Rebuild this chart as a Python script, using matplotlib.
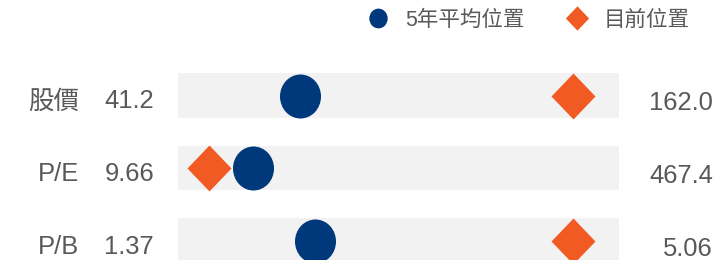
import matplotlib
matplotlib.use("Agg")
import matplotlib.pyplot as plt
import numpy as np
from matplotlib.path import Path
from matplotlib.lines import Line2D
from matplotlib.transforms import blended_transform_factory, offset_copy

# data
metrics = ["股價", "P/E", "P/B"]
range_min = [41.2, 9.66, 1.37]
range_max = [162.0, 467.4, 5.06]
avg_5y = [74.6, 87.5, 2.52]
current = [149.4, 41.8, 4.675]

legend_labels = ["5年平均位置", "目前位置"]

NAVY = "#00387C"
ORANGE = "#F15A22"
GRAY_BAR = "#F2F2F2"
TEXT = "#595959"
FONT = ["Liberation Sans", "Noto Sans CJK TC"]

plt.rcParams["font.family"] = FONT

# slightly tall ellipse and diamond markers
ellipse = Path.unit_circle().transformed(
    matplotlib.transforms.Affine2D().scale(41 / 44, 1.0))
diamond = Path([(0, 0.5), (0.478, 0), (0, -0.5), (-0.478, 0), (0, 0.5)],
               [Path.MOVETO, Path.LINETO, Path.LINETO, Path.LINETO, Path.CLOSEPOLY])


def main():
    W, H = 717, 260
    fig = plt.figure(figsize=(W / 100, H / 100), dpi=100)

    # axes covers the bar span; rows are 72.5 px apart
    top_px = 95.5 - 36.25
    ax = fig.add_axes([178 / W, 0, 441 / W, (H - top_px) / H])
    rows = np.arange(len(metrics))
    ax.set_xlim(0, 1)
    ax.set_ylim(2.5 - (276.75 - H) / 72.5, -0.5)
    ax.axis("off")

    mins = np.array(range_min)
    maxs = np.array(range_max)
    avg_pos = (np.array(avg_5y) - mins) / (maxs - mins)
    cur_pos = (np.array(current) - mins) / (maxs - mins)

    ax.barh(rows, 1, left=0, height=0.62, color=GRAY_BAR, zorder=1)
    ax.plot(avg_pos, rows, ls="none", marker=ellipse, ms=31.7, mew=0,
            color=NAVY, zorder=3, clip_on=False)
    ax.plot(cur_pos, rows, ls="none", marker=diamond, ms=33.1, mew=0,
            color=ORANGE, zorder=3, clip_on=False)

    # labels left and right of the bars
    trans = blended_transform_factory(fig.transFigure, ax.transData)
    left_tr = offset_copy(trans, fig=fig, y=-13, units="dots")
    right_tr = offset_copy(trans, fig=fig, y=-15, units="dots")
    for i, name in enumerate(metrics):
        ax.text(79 / W, i, name, transform=left_tr, ha="right", va="baseline",
                fontsize=18.4, color=TEXT)
        ax.text(154 / W, i, f"{range_min[i]:g}", transform=left_tr, ha="right",
                va="baseline", fontsize=18.4, color=TEXT)
        ax.text(713 / W, i, f"{range_max[i]:.3g}" if range_max[i] < 10 else f"{range_max[i]:.1f}",
                transform=right_tr, ha="right", va="baseline", fontsize=18.4, color=TEXT)

    # legend
    handles = [
        Line2D([], [], ls="none", marker=ellipse, ms=14.2, mew=0, color=NAVY,
               label=legend_labels[0]),
        Line2D([], [], ls="none", marker=diamond, ms=17.5, mew=0, color=ORANGE,
               label=legend_labels[1]),
    ]
    fig.legend(handles=handles, ncol=2, frameon=False, loc="center left",
               bbox_to_anchor=(367.2 / W, 1 - 20 / H),
               prop={"family": FONT, "size": 15.5}, labelcolor=TEXT,
               handlelength=1, handletextpad=0.76, columnspacing=1.92,
               borderpad=0, borderaxespad=0)

    fig.savefig("out.png", dpi=100)


if __name__ == "__main__":
    main()
